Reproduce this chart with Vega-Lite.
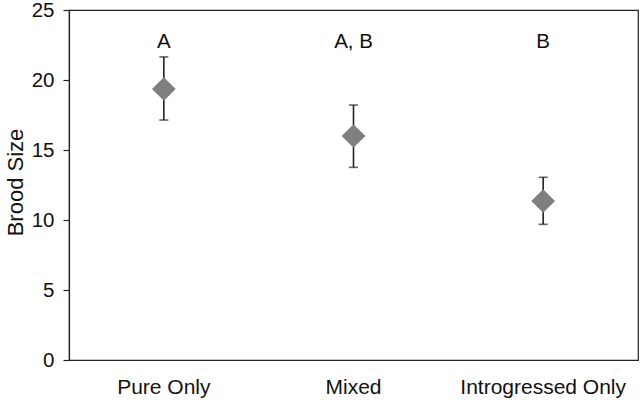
{
  "$schema": "https://vega.github.io/schema/vega-lite/v6.json",
  "autosize": {"type": "none"},
  "padding": {"left": 69, "top": 10, "right": 2, "bottom": 40},
  "width": 569,
  "height": 350,
  "background": "white",
  "config": {
    "font": "Liberation Sans",
    "view": {"stroke": "#222222", "strokeWidth": 1.2}
  },
  "data": {
    "values": [
      {"group": "Pure Only", "mean": 19.36, "lo": 17.14, "hi": 21.65, "letter": "A", "lpos": 22.29},
      {"group": "Mixed", "mean": 16.0, "lo": 13.76, "hi": 18.21, "letter": "A, B", "lpos": 22.29},
      {"group": "Introgressed Only", "mean": 11.36, "lo": 9.69, "hi": 13.05, "letter": "B", "lpos": 22.29}
    ]
  },
  "encoding": {
    "x": {
      "field": "group",
      "type": "nominal",
      "sort": null,
      "scale": {"paddingInner": 0, "paddingOuter": 0},
      "axis": {
        "title": null,
        "labelAngle": 0,
        "labelFontSize": 21,
        "labelColor": "#111111",
        "ticks": false,
        "tickSize": 0,
        "labelPadding": 16,
        "domain": false
      }
    }
  },
  "layer": [
    {
      "mark": {"type": "rule", "color": "#222222", "strokeWidth": 1.6},
      "encoding": {
        "y": {
          "field": "lo",
          "type": "quantitative",
          "scale": {"domain": [0, 25], "nice": false},
          "axis": {
            "title": "Brood Size",
            "titleFontSize": 22,
            "titleFontWeight": "normal",
            "titleColor": "#111111",
            "titleAngle": -90,
            "titleX": -47,
            "titleY": 172,
            "titleAlign": "center",
            "titleBaseline": "alphabetic",
            "values": [0, 5, 10, 15, 20, 25],
            "grid": false,
            "labelFontSize": 20.5,
            "labelColor": "#111111",
            "tickSize": 6,
            "tickColor": "#222222",
            "tickWidth": 1.2,
            "labelPadding": 9,
            "domainColor": "#222222",
            "domainWidth": 1.2
          }
        },
        "y2": {"field": "hi"}
      }
    },
    {
      "mark": {"type": "tick", "color": "#222222", "thickness": 1.6, "size": 9, "orient": "horizontal"},
      "encoding": {"y": {"field": "lo", "type": "quantitative"}}
    },
    {
      "mark": {"type": "tick", "color": "#222222", "thickness": 1.6, "size": 9, "orient": "horizontal"},
      "encoding": {"y": {"field": "hi", "type": "quantitative"}}
    },
    {
      "mark": {"type": "point", "shape": "diamond", "filled": true, "size": 560, "color": "#7f7f7f", "opacity": 1},
      "encoding": {"y": {"field": "mean", "type": "quantitative"}}
    },
    {
      "mark": {"type": "text", "fontSize": 20.5, "baseline": "alphabetic", "color": "#111111"},
      "encoding": {
        "y": {"field": "lpos", "type": "quantitative"},
        "text": {"field": "letter"}
      }
    }
  ]
}
